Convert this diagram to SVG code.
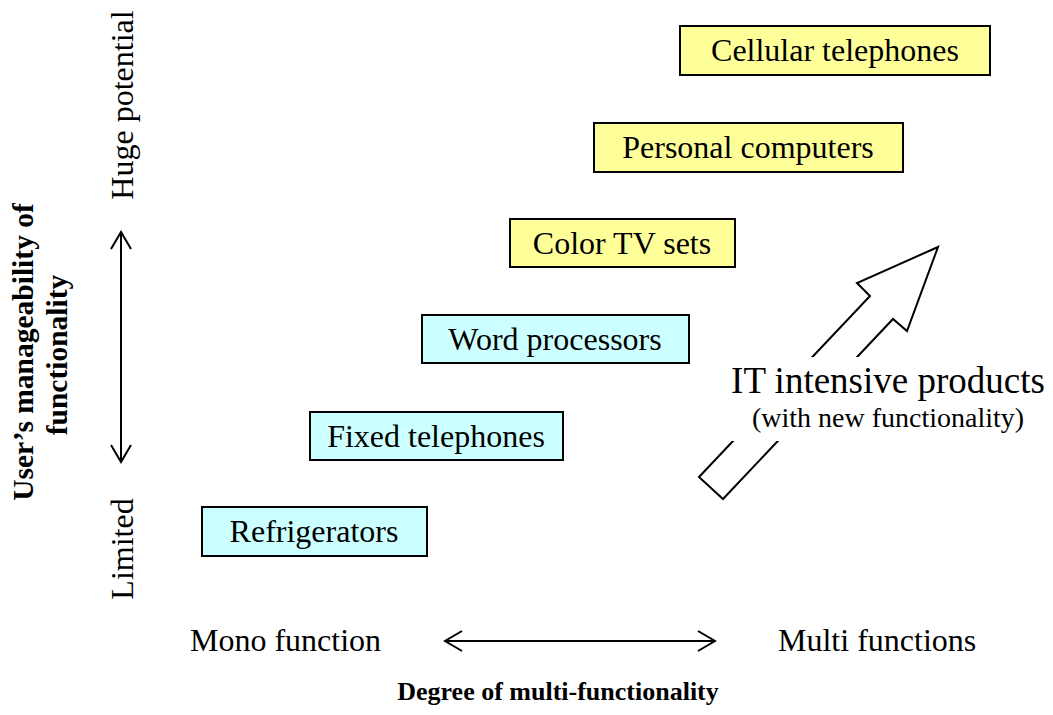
<svg xmlns="http://www.w3.org/2000/svg" width="1053" height="715" viewBox="0 0 1053 715">
<defs>
<style>
.t{font-family:"Liberation Serif","Times New Roman",serif;fill:#000}
.box{stroke:#000;stroke-width:2}
.cyan{fill:#CCFFFF}
.yel{fill:#FFFF99}
.lbl{font-size:32px;text-anchor:middle}
.bold{font-weight:bold}
.ax{fill:none;stroke:#000;stroke-width:2}
</style>
</defs>
<rect width="1053" height="715" fill="#fff"/>
<g id="connectors">
<g id="v-axis-arrow">
<line class="ax" x1="121" y1="232" x2="121" y2="462"/>
<polyline class="ax" points="111,249 121,232 131,249"/>
<polyline class="ax" points="111,445 121,462 131,445"/>
</g>
<g id="h-axis-arrow">
<line class="ax" x1="445" y1="641" x2="715" y2="641"/>
<polyline class="ax" points="462,631 445,641 462,651"/>
<polyline class="ax" points="698,631 715,641 698,651"/>
</g>
<g id="big-arrow">
<polygon points="938,247 857,283 870,296 699,477 723,499 893,319 907,331" fill="#fff" stroke="#000" stroke-width="2" stroke-linejoin="miter"/>
</g>
</g>
<g id="it-label">
<rect x="722" y="357" width="328" height="84" fill="#fff"/>
<text class="t" x="888" y="393" font-size="37" text-anchor="middle">IT intensive products</text>
<text class="t" x="888" y="427" font-size="28" text-anchor="middle">(with new functionality)</text>
</g>
<g id="cellular">
<rect class="box yel" x="680" y="26" width="310" height="49"/>
<text class="t lbl" x="835" y="61">Cellular telephones</text>
</g>
<g id="personal">
<rect class="box yel" x="594" y="123" width="309" height="49"/>
<text class="t lbl" x="748" y="158">Personal computers</text>
</g>
<g id="colortv">
<rect class="box yel" x="510" y="219" width="225" height="48"/>
<text class="t lbl" x="622" y="254">Color TV sets</text>
</g>
<g id="word">
<rect class="box cyan" x="422" y="315" width="267" height="48"/>
<text class="t lbl" x="555" y="350">Word processors</text>
</g>
<g id="fixed">
<rect class="box cyan" x="310" y="412" width="253" height="48"/>
<text class="t lbl" x="436" y="447">Fixed telephones</text>
</g>
<g id="refrigerators">
<rect class="box cyan" x="202" y="507" width="225" height="49"/>
<text class="t lbl" x="314" y="542">Refrigerators</text>
</g>
<g id="axis-labels">
<text class="t" font-size="32" text-anchor="middle" transform="translate(133,105) rotate(-90)">Huge potential</text>
<text class="t" font-size="32" text-anchor="middle" transform="translate(133,549) rotate(-90)">Limited</text>
<text class="t bold" font-size="29.5" text-anchor="middle" transform="translate(33,352) rotate(-90)">User’s manageability of</text>
<text class="t bold" font-size="29.5" text-anchor="middle" transform="translate(67,355) rotate(-90)">functionality</text>
<text class="t" font-size="32" x="190" y="651">Mono function</text>
<text class="t" font-size="32" x="778" y="651">Multi functions</text>
<text class="t bold" font-size="26" x="558" y="700" text-anchor="middle">Degree of multi-functionality</text>
</g>
</svg>
